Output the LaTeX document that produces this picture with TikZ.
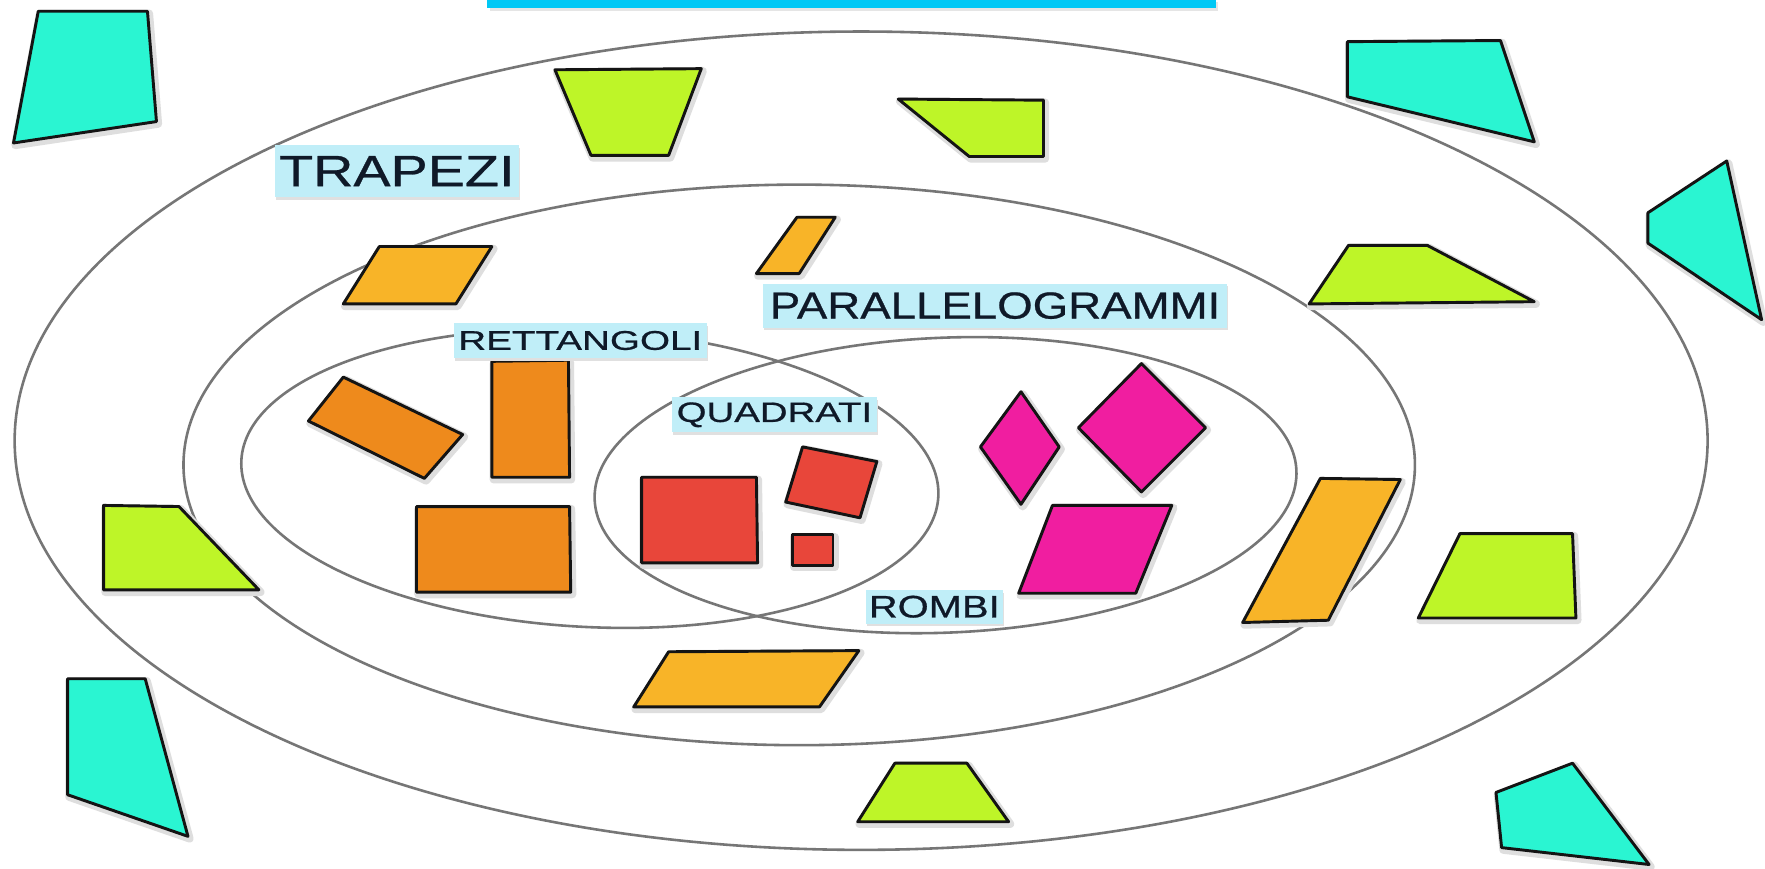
\documentclass[tikz,border=0pt]{standalone}
\usepackage{fontspec}
\setmainfont{Liberation Sans}
\newfontfamily\lblfont[FakeBold=0.6]{Liberation Sans}
\usepackage{graphicx}
\definecolor{cyq}{RGB}{42,245,210}
\definecolor{limeg}{RGB}{190,245,40}
\definecolor{parac}{RGB}{248,180,40}
\definecolor{rectc}{RGB}{238,138,28}
\definecolor{sqc}{RGB}{232,70,58}
\definecolor{rhc}{RGB}{240,30,160}
\definecolor{lblue}{RGB}{192,238,248}
\definecolor{topbar}{RGB}{0,200,245}
\definecolor{ellc}{RGB}{118,118,118}
\definecolor{lbltext}{RGB}{15,25,40}
\begin{document}
\begin{tikzpicture}[x=1pt,y=-1pt,
  ell/.style={draw=ellc, line width=2.3pt},
  shp/.style={draw=black!92, line width=2.6pt, line join=round, fill=#1,
    preaction={draw=black!13, fill=black!13, line width=7pt, line join=round,
      transform canvas={xshift=1.5pt,yshift=-2pt}}},
  lbl/.style={fill=lblue, inner sep=0pt, text=lbltext, anchor=center,
    preaction={fill=black!12, transform canvas={xshift=1pt,yshift=-2.5pt}}}]
\useasboundingbox (0,0) rectangle (1568,772);
\fill[white] (0,0) rectangle (1568,772);
% top bar
\fill[black!10] (435,2) rectangle (1082,10);
\fill[topbar] (433,0) rectangle (1080,7);
% ellipses
\draw[ell] (765,391.5) ellipse [x radius=752pt, y radius=363.5pt];
\draw[ell] (710,413) ellipse [x radius=547pt, y radius=249pt];
\draw[ell, rotate around={-3:(524,425)}] (524,425) ellipse [x radius=310pt, y radius=132pt];
\draw[ell, rotate around={2.4:(840,431)}] (840,431) ellipse [x radius=312pt, y radius=131pt];
% cyan quadrilaterals
\path[shp=cyq] (34,10) -- (131,10) -- (139,108) -- (12,127) -- cycle;
\path[shp=cyq] (1197,37) -- (1333,36) -- (1363,126) -- (1197,86) -- cycle;
\path[shp=cyq] (1534,143) -- (1565,284) -- (1464,216) -- (1464,189) -- cycle;
\path[shp=cyq] (60,603) -- (129,603) -- (167,743) -- (60,706) -- cycle;
\path[shp=cyq] (1397,678) -- (1465,768) -- (1334,753) -- (1329,704) -- cycle;
% lime trapezoids
\path[shp=limeg] (493,62) -- (623,61) -- (594,138) -- (525,138) -- cycle;
\path[shp=limeg] (798,88) -- (927,89) -- (927,139) -- (861,139) -- cycle;
\path[shp=limeg] (1198,218) -- (1268,218) -- (1363,268) -- (1163,270) -- cycle;
\path[shp=limeg] (92,449) -- (159,450) -- (230,524) -- (92,524) -- cycle;
\path[shp=limeg] (795,678) -- (859,678) -- (896,730) -- (762,730) -- cycle;
\path[shp=limeg] (1297,474) -- (1397,474) -- (1400,549) -- (1260,549) -- cycle;
% parallelograms
\path[shp=parac] (337,219) -- (437,219) -- (405,270) -- (305,270) -- cycle;
\path[shp=parac] (708,193) -- (742,193) -- (710,243) -- (672,243) -- cycle;
\path[shp=parac] (594,579) -- (763,578) -- (728,628) -- (563,628) -- cycle;
\path[shp=parac] (1173,425) -- (1244,426) -- (1180,551) -- (1104,553) -- cycle;
% rectangles
\path[shp=rectc] (305,335) -- (411,386) -- (377,425) -- (274,374) -- cycle;
\path[shp=rectc] (437,321) -- (505,320) -- (506,424) -- (437,424) -- cycle;
\path[shp=rectc] (370,450) -- (506,450) -- (507,526) -- (370,526) -- cycle;
% squares
\path[shp=sqc] (570,424) -- (672,424) -- (673,500) -- (570,500) -- cycle;
\path[shp=sqc] (713,397) -- (779,410) -- (764,460) -- (698,446) -- cycle;
\path[shp=sqc] (704,475) -- (740,475) -- (740,502) -- (704,502) -- cycle;
% rhombi
\path[shp=rhc] (907,348) -- (941,397) -- (907,448) -- (871,397) -- cycle;
\path[shp=rhc] (1014,323) -- (1071,380) -- (1014,437) -- (958,380) -- cycle;
\path[shp=rhc] (935,449) -- (1041,449) -- (1009,527) -- (905,527) -- cycle;
% labels
\node[lbl, minimum width=217pt, minimum height=46pt, font=\lblfont\fontsize{39}{39}\selectfont] (trapezi) at (352.5,152) {\scalebox{1.27}[1]{TRAPEZI}};
\node[lbl, minimum width=412pt, minimum height=39pt, font=\lblfont\fontsize{33.5}{33.5}\selectfont] (parall) at (884,271.5) {\scalebox{1.21}[1]{PARALLELOGRAMMI}};
\node[lbl, minimum width=225pt, minimum height=31pt, font=\lblfont\fontsize{24}{24}\selectfont] (rett) at (515.5,302.5) {\scalebox{1.43}[1]{RETTANGOLI}};
\node[lbl, minimum width=182pt, minimum height=31pt, font=\lblfont\fontsize{24.9}{24.9}\selectfont] (quad) at (688,368.5) {\scalebox{1.37}[1]{QUADRATI}};
\node[lbl, minimum width=122pt, minimum height=30pt, font=\lblfont\fontsize{27.7}{27.7}\selectfont] (rombi) at (830,539) {\scalebox{1.28}[1]{ROMBI}};
\end{tikzpicture}
\end{document}
